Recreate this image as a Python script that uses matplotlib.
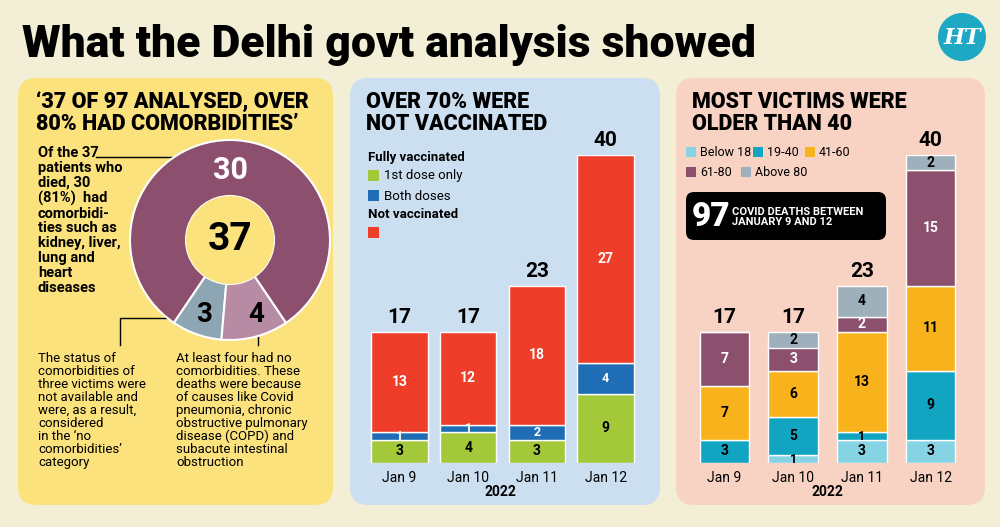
import matplotlib.pyplot as plt
from matplotlib.patches import FancyBboxPatch, Circle
import numpy as np

plt.rcParams['font.family'] = ['Roboto', 'DejaVu Sans']

# data
donut_vals = [30, 3, 4]
days = ["Jan 9", "Jan 10", "Jan 11", "Jan 12"]
first_dose = [3, 4, 3, 9]
both_doses = [1, 1, 2, 4]
not_vacc = [13, 12, 18, 27]
vacc_totals = [17, 17, 23, 40]
age_groups = ["Below 18", "19-40", "41-60", "61-80", "Above 80"]
age_vals = [
    [0, 1, 3, 3],    # below 18
    [3, 5, 1, 9],    # 19-40
    [7, 6, 13, 11],  # 41-60
    [7, 3, 2, 15],   # 61-80
    [0, 2, 4, 2],    # above 80
]
age_totals = [17, 17, 23, 40]

age_colors = ["#86d3e3", "#12a5c2", "#f8b21b", "#8c4f6e", "#9eb0bb"]
purple = "#8c4f6e"

fig = plt.figure(figsize=(10, 5.27), dpi=100)
fig.patch.set_facecolor("#f3efd6")
bg = fig.add_axes([0, 0, 1, 1])
bg.set_xlim(0, 1000)
bg.set_ylim(527, 0)
bg.axis("off")


def box(x0, y0, x1, y1, color):
    bg.add_patch(FancyBboxPatch((x0, y0), x1 - x0, y1 - y0,
                                boxstyle="round,pad=0,rounding_size=18",
                                fc=color, ec="none"))


def ax_px(x0, y0, x1, y1):
    return fig.add_axes([x0 / 1000, 1 - y1 / 527, (x1 - x0) / 1000, (y1 - y0) / 527])


# title + logo
bg.text(22, 45, "What the Delhi govt analysis showed", fontsize=32, weight="black",
        va="center", ha="left")
bg.add_patch(Circle((962, 37), 24, fc="#1ea8c4", ec="none"))
bg.text(962, 38, "HT", color="white", fontsize=16, weight="bold", ha="center",
        va="center", style="italic", family="DejaVu Serif")

box(18, 78, 333, 505, "#fbe27d")
box(350, 78, 660, 505, "#cbdff1")
box(676, 78, 985, 505, "#f8d3c3")

# ---- panel 1
bg.text(36, 113, "‘37 OF 97 ANALYSED, OVER\n80% HAD COMORBIDITIES’", fontsize=15.5,
        weight="black", va="center", linespacing=1.0)
bg.text(38, 146, "Of the 37\npatients who\ndied, 30\n(81%)  had\ncomorbidi-\nties such as\nkidney, liver,\nlung and\nheart\ndiseases",
        fontsize=10.5, weight="bold", va="top", linespacing=1.08)
bg.text(38, 352, "The status of\ncomorbidities of\nthree victims were\nnot available and\nwere, as a result,\nconsidered\nin the ‘no\ncomorbidities’\ncategory",
        fontsize=9.5, va="top", linespacing=1.0)
bg.text(176, 352, "At least four had no\ncomorbidities. These\ndeaths were because\nof causes like Covid\npneumonia, chronic\nobstructive pulmonary\ndisease (COPD) and\nsubacute intestinal\nobstruction",
        fontsize=9.5, va="top", linespacing=1.0)

dax = ax_px(130, 140, 330, 340)
dax.pie(donut_vals, colors=[purple, "#8ea6b4", "#b78ba3"], startangle=304,
        wedgeprops=dict(width=0.56, ec="white", lw=1.5))
dax.add_patch(Circle((0, 0), 0.44, fc="#fbe27d", ec="none"))
dax.text(0, 0, "37", fontsize=28, weight="bold", ha="center", va="center")
dax.text(0, 0.7, "30", fontsize=22, weight="bold", color="white", ha="center", va="center")
dax.text(-0.26, -0.74, "3", fontsize=20, weight="bold", ha="center", va="center")
dax.text(0.26, -0.74, "4", fontsize=20, weight="bold", ha="center", va="center")
dax.set_xlim(-1, 1)
dax.set_ylim(-1, 1)

bg.plot([96, 205], [157, 157], color="black", lw=1)
bg.plot(205, 157, "o", color="black", ms=4)
bg.plot([190, 120, 120], [318, 318, 345], color="black", lw=1)
bg.plot([258, 258], [316, 345], color="black", lw=1)
bg.plot(258, 316, "o", color="black", ms=4)

# ---- panel 2
bg.text(366, 113, "OVER 70% WERE\nNOT VACCINATED", fontsize=15.5, weight="black",
        va="center", linespacing=1.0)
bg.text(368, 158, "Fully vaccinated", fontsize=9.5, weight="bold", va="center")
bg.add_patch(plt.Rectangle((368, 170), 11, 11, fc="#a3c83a"))
bg.text(384, 176, "1st dose only", fontsize=9.5, va="center")
bg.add_patch(plt.Rectangle((368, 190), 11, 11, fc="#1f6db4"))
bg.text(384, 196, "Both doses", fontsize=9.5, va="center")
bg.text(368, 215, "Not vaccinated", fontsize=9.5, weight="bold", va="center")
bg.add_patch(plt.Rectangle((368, 227), 11, 11, fc="#ee3d29"))

vax = ax_px(365, 155, 640, 463)
x = np.arange(len(days))
b1 = np.array(first_dose)
b2 = b1 + np.array(both_doses)
vax.bar(x, first_dose, 0.82, color="#a3c83a", ec="white", lw=1)
vax.bar(x, both_doses, 0.82, bottom=b1, color="#1f6db4", ec="white", lw=1)
vax.bar(x, not_vacc, 0.82, bottom=b2, color="#ee3d29", ec="white", lw=1)
for i in range(len(days)):
    vax.text(i, first_dose[i] / 2, str(first_dose[i]), ha="center", va="center",
             fontsize=10, weight="bold")
    vax.text(i, b1[i] + both_doses[i] / 2, str(both_doses[i]), ha="center", va="center",
             fontsize=9, weight="bold", color="white")
    vax.text(i, b2[i] + not_vacc[i] / 2, str(not_vacc[i]), ha="center", va="center",
             fontsize=10, weight="bold", color="white")
    vax.text(i, vacc_totals[i] + 0.6, str(vacc_totals[i]), ha="center", va="bottom",
             fontsize=15, weight="bold", clip_on=False)
vax.set_xlim(-0.5, 3.5)
vax.set_ylim(0, 40)
vax.set_xticks(x, days, fontsize=10)
vax.tick_params(length=0, pad=6)
vax.set_yticks([])
for s in vax.spines.values():
    s.set_visible(False)
vax.patch.set_alpha(0)
bg.text(500, 492, "2022", fontsize=10, weight="bold", ha="center", va="center")

# ---- panel 3
bg.text(692, 113, "MOST VICTIMS WERE\nOLDER THAN 40", fontsize=15.5, weight="black",
        va="center", linespacing=1.0)
leg_pos = [(686, 152), (753, 152), (805, 152), (686, 172), (741, 172)]
for (lx, ly), name, c in zip(leg_pos, age_groups, age_colors):
    bg.add_patch(plt.Rectangle((lx, ly - 5), 10, 10, fc=c))
    bg.text(lx + 14, ly, name, fontsize=9, va="center")
bg.add_patch(FancyBboxPatch((686, 192), 200, 48, boxstyle="round,pad=0,rounding_size=8",
                            fc="black", ec="none"))
bg.text(692, 217, "97", color="white", fontsize=24, weight="black", va="center")
bg.text(732, 217, "COVID DEATHS BETWEEN\nJANUARY 9 AND 12", color="white", fontsize=8,
        weight="bold", va="center", linespacing=1.1)

aax = ax_px(690, 155, 965, 463)
bottom = np.zeros(len(days))
for k, vals in enumerate(age_vals):
    aax.bar(x, vals, 0.72, bottom=bottom, color=age_colors[k], ec="white", lw=1)
    for i, v in enumerate(vals):
        if v:
            aax.text(i, bottom[i] + v / 2, str(v), ha="center", va="center",
                     fontsize=10 if v > 1 else 9, weight="bold",
                     color="white" if k == 3 else "black")
    bottom += np.array(vals)
for i in range(len(days)):
    aax.text(i, age_totals[i] + 0.6, str(age_totals[i]), ha="center", va="bottom",
             fontsize=15, weight="bold", clip_on=False)
aax.set_xlim(-0.5, 3.5)
aax.set_ylim(0, 40)
aax.set_xticks(x, days, fontsize=10)
aax.tick_params(length=0, pad=6)
aax.set_yticks([])
for s in aax.spines.values():
    s.set_visible(False)
aax.patch.set_alpha(0)
bg.text(827, 492, "2022", fontsize=10, weight="bold", ha="center", va="center")

fig.savefig("out.png", dpi=100, facecolor=fig.get_facecolor())
